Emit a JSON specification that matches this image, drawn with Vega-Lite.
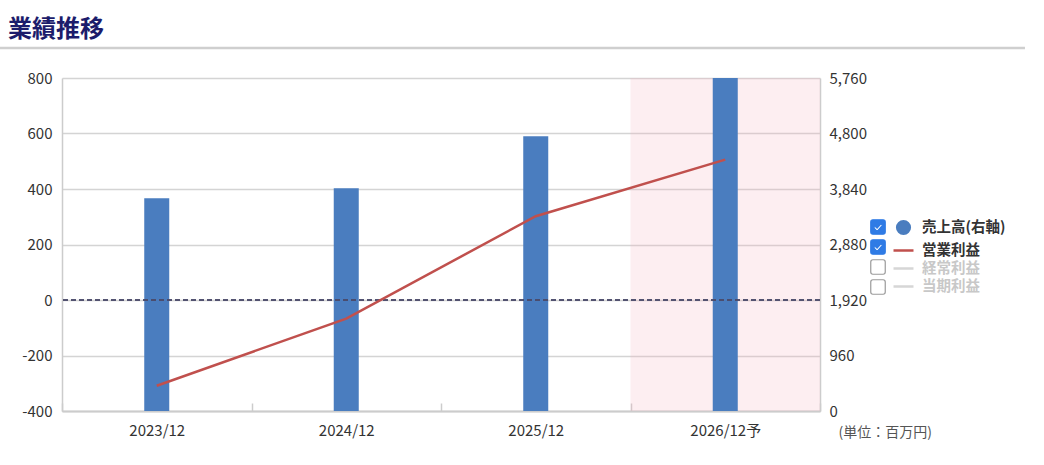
{
  "$schema": "https://vega.github.io/schema/vega-lite/v6.json",
  "width": 758,
  "height": 333,
  "autosize": "none",
  "padding": {"left": 62, "top": 78, "right": 224, "bottom": 54},
  "background": "white",
  "config": {
    "font": "Noto Sans CJK JP",
    "view": {"stroke": null},
    "axis": {"labelFont": "Noto Sans CJK JP", "labelFontSize": 15, "labelColor": "#333333"}
  },
  "title": {
    "text": "業績推移",
    "anchor": "start",
    "frame": "group",
    "font": "Noto Sans CJK JP",
    "fontSize": 24,
    "fontWeight": "bold",
    "color": "#1c1c6b",
    "dx": -54,
    "offset": 5
  },
  "data": {
    "values": [
      {"期": "2023/12", "売上高": 3682, "営業利益": -309},
      {"期": "2024/12", "売上高": 3854, "営業利益": -67},
      {"期": "2025/12", "売上高": 4752, "営業利益": 302},
      {"期": "2026/12予", "売上高": 5760, "営業利益": 506}
    ]
  },
  "layer": [
    {
      "layer": [
        {
          "transform": [{"filter": "datum['期'] === '2026/12予'"}],
          "mark": {"type": "bar", "fill": "#f7b3c0", "opacity": 0.22},
          "encoding": {
            "x": {
              "field": "期",
              "type": "nominal",
              "scale": {"paddingInner": 0, "paddingOuter": 0},
              "axis": {
                "labelAngle": 0,
                "tickBand": "extent",
                "tickSize": -8,
                "tickColor": "#cccccc",
                "tickWidth": 1.5,
                "labelPadding": 20,
                "domainColor": "#cccccc",
                "domainWidth": 2,
                "grid": false,
                "title": "(単位：百万円)",
                "titleX": 776,
                "titleY": 21,
                "titleAlign": "left",
                "titleBaseline": "middle",
                "titleFontSize": 14,
                "titleFontWeight": "normal",
                "titleColor": "#555555"
              }
            },
            "y": {"datum": 800, "type": "quantitative", "scale": {"domain": [-400, 800], "nice": false}, "axis": null},
            "y2": {"datum": -400}
          }
        },
        {
          "mark": {"type": "bar", "width": {"band": 0.132}},
          "encoding": {
            "x": {"field": "期", "type": "nominal"},
            "y": {
              "field": "売上高",
              "type": "quantitative",
              "scale": {"domain": [0, 5760], "nice": false, "zero": true},
              "axis": {
                "orient": "right",
                "title": null,
                "values": [0, 960, 1920, 2880, 3840, 4800, 5760],
                "labelExpr": "format(datum.value, ',')",
                "grid": false,
                "ticks": false,
                "labelPadding": 9,
                "domainColor": "#cccccc",
                "domainWidth": 1.5
              }
            },
            "color": {
              "datum": "売上高(右軸)",
              "scale": {
                "domain": ["売上高(右軸)", "営業利益", "経常利益", "当期利益"],
                "range": ["#4a7dbf", "#c0504d", "#d6d6d6", "#d6d6d6"]
              },
              "legend": {
                "orient": "none",
                "legendX": 830,
                "legendY": 138,
                "title": null,
                "padding": 0,
                "labelFont": "Noto Sans CJK JP",
                "labelFontSize": 14.5,
                "labelFontWeight": "bold",
                "labelColor": "#333333",
                "labelOffset": 7,
                "symbolSize": 300,
                "rowPadding": 0,
                "encode": {
                  "symbols": {
                    "update": {
                      "shape": {"signal": "datum.value === '売上高(右軸)' ? 'circle' : 'stroke'"},
                      "size": {"signal": "datum.value === '売上高(右軸)' ? 160 : 400"},
                      "fill": {"signal": "datum.value === '売上高(右軸)' ? '#4a7dbf' : 'transparent'"},
                      "stroke": {"signal": "datum.value === '売上高(右軸)' ? 'transparent' : datum.value === '営業利益' ? '#b84c4c' : '#d6d6d6'"},
                      "strokeWidth": {"value": 2.5},
                      "opacity": {"value": 1}
                    }
                  },
                  "labels": {
                    "update": {
                      "fill": {"signal": "datum.value === '売上高(右軸)' || datum.value === '営業利益' ? '#333333' : '#c8c8c8'"}
                    }
                  }
                }
              }
            }
          }
        },
        {
          "mark": {"type": "rule", "color": "#4a4a6a", "strokeDash": [5, 3], "strokeWidth": 1.2},
          "encoding": {
            "y": {"datum": 0, "type": "quantitative", "scale": {"domain": [-400, 800], "nice": false}, "axis": null}
          }
        },
        {
          "mark": {"type": "line", "strokeWidth": 2.5},
          "encoding": {
            "x": {"field": "期", "type": "nominal"},
            "y": {
              "field": "営業利益",
              "type": "quantitative",
              "scale": {"domain": [-400, 800], "nice": false},
              "axis": {
                "orient": "left",
                "title": null,
                "values": [-400, -200, 0, 200, 400, 600, 800],
                "labelExpr": "'' + datum.value",
                "grid": true,
                "gridColor": "#d4d4d4",
                "gridWidth": 1.5,
                "ticks": false,
                "labelPadding": 10,
                "domainColor": "#cccccc",
                "domainWidth": 1.5
              }
            },
            "color": {"datum": "営業利益"}
          }
        }
      ],
      "resolve": {"scale": {"y": "independent"}}
    },
    {
      "data": {"values": [{}]},
      "mark": {"type": "rule", "color": "#cfcfcf", "strokeWidth": 2.5},
      "encoding": {
        "x": {"datum": -0.0818, "type": "quantitative", "scale": {"domain": [0, 1], "nice": false, "zero": false}, "axis": null},
        "x2": {"datum": 1.2704},
        "y": {"datum": 908, "type": "quantitative", "scale": {"domain": [-400, 800], "nice": false}, "axis": null}
      }
    },
    {
      "data": {"values": []},
      "mark": {"type": "point", "strokeWidth": 1.2, "opacity": 1},
      "encoding": {
        "shape": {
          "field": "box",
          "type": "nominal",
          "scale": {
            "domain": ["c1", "c2", "c3", "c4"],
            "range": [
              "M-0.7,-1H0.7Q1,-1 1,-0.7V0.7Q1,1 0.7,1H-0.7Q-1,1 -1,0.7V-0.7Q-1,-1 -0.7,-1Z M-0.606,0.106L-0.113,0.599L0.633,-0.251L0.407,-0.449L-0.127,0.161L-0.394,-0.106Z",
              "M-0.7,-1H0.7Q1,-1 1,-0.7V0.7Q1,1 0.7,1H-0.7Q-1,1 -1,0.7V-0.7Q-1,-1 -0.7,-1Z M-0.606,0.106L-0.113,0.599L0.633,-0.251L0.407,-0.449L-0.127,0.161L-0.394,-0.106Z",
              "M-0.7,-1H0.7Q1,-1 1,-0.7V0.7Q1,1 0.7,1H-0.7Q-1,1 -1,0.7V-0.7Q-1,-1 -0.7,-1Z",
              "M-0.7,-1H0.7Q1,-1 1,-0.7V0.7Q1,1 0.7,1H-0.7Q-1,1 -1,0.7V-0.7Q-1,-1 -0.7,-1Z"
            ]
          },
          "legend": {
            "orient": "none",
            "legendX": 808,
            "legendY": 141,
            "title": null,
            "padding": 0,
            "labelExpr": "''",
            "labelFontSize": 14.5,
            "labelOffset": 0,
            "symbolSize": 210,
            "symbolStrokeWidth": 1.2,
            "rowPadding": 0
          }
        },
        "fill": {
          "field": "box",
          "type": "nominal",
          "scale": {"domain": ["c1", "c2", "c3", "c4"], "range": ["#2f7be5", "#2f7be5", "#ffffff", "#ffffff"]}
        },
        "stroke": {
          "field": "box",
          "type": "nominal",
          "scale": {"domain": ["c1", "c2", "c3", "c4"], "range": ["#2f7be5", "#2f7be5", "#9a9a9a", "#9a9a9a"]}
        }
      }
    }
  ],
  "resolve": {"scale": {"x": "independent", "y": "independent"}}
}
